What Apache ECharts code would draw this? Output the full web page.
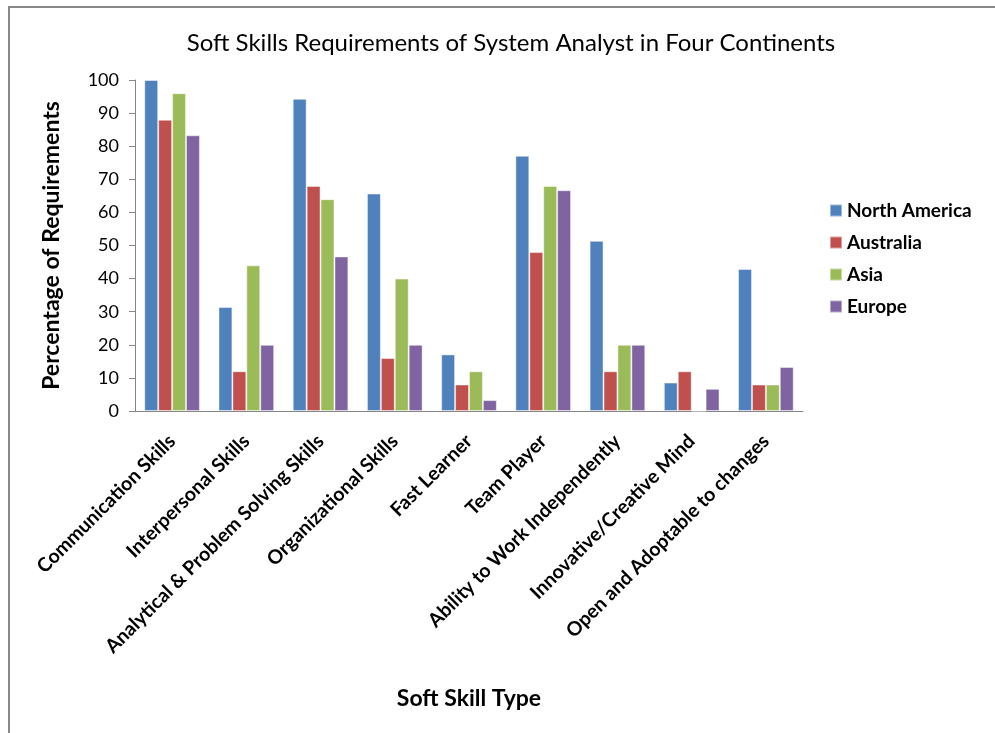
<!DOCTYPE html>
<html>
<head>
<meta charset="utf-8">
<script src="https://cdn.jsdelivr.net/npm/echarts@6/dist/echarts.min.js"></script>
<style>
  html, body { margin: 0; padding: 0; background: #fff; }
  #chart { width: 995px; height: 733px; }
</style>
</head>
<body>
<div id="chart"></div>
<script>
var categories = [
  'Communication Skills',
  'Interpersonal Skills',
  'Analytical & Problem Solving Skills',
  'Organizational Skills',
  'Fast Learner',
  'Team Player',
  'Ability to Work Independently',
  'Innovative/Creative Mind',
  'Open and Adoptable to changes'
];
var northAmerica = [100, 31.4, 94.3, 65.7, 17.1, 77.1, 51.4, 8.6, 42.9];
var australia = [88, 12, 68, 16, 8, 48, 12, 12, 8];
var asia = [96, 44, 64, 40, 12, 68, 20, 0, 8];
var europe = [83.3, 20, 46.7, 20, 3.3, 66.7, 20, 6.7, 13.3];

var FONT = 'Lato';
var chart = echarts.init(document.getElementById('chart'));

function barSeries(name, data, color) {
  return {
    name: name,
    type: 'bar',
    data: data,
    barGap: '0%',
    barCategoryGap: '25%',
    itemStyle: { color: color, borderColor: 'rgba(255,255,255,0.45)', borderWidth: 1 }
  };
}

var option = {
  backgroundColor: '#fff',
  animation: false,
  textStyle: { fontFamily: FONT },
  title: {
    text: 'Soft Skills Requirements of System Analyst in Four Continents',
    left: 506,
    top: 26,
    textAlign: 'center',
    textStyle: { fontFamily: FONT, fontSize: 24, fontWeight: 'normal', color: '#000' }
  },
  legend: {
    orient: 'vertical',
    left: 824,
    top: 196,
    itemWidth: 12,
    itemHeight: 12,
    itemGap: 13,
    icon: 'rect',
    textStyle: { fontFamily: FONT, fontSize: 19, fontWeight: 'bold', color: '#000' },
    data: ['North America', 'Australia', 'Asia', 'Europe']
  },
  grid: { left: 135, right: 192, top: 80, bottom: 322, containLabel: false },
  xAxis: {
    type: 'category',
    data: categories,
    name: 'Soft Skill Type',
    nameLocation: 'middle',
    nameGap: 276,
    nameTextStyle: { fontFamily: FONT, fontSize: 23, fontWeight: 'bold', color: '#000' },
    axisLine: { lineStyle: { color: '#868686' } },
    axisTick: { show: false },
    axisLabel: {
      interval: 0,
      rotate: 45,
      margin: 27,
      fontFamily: FONT,
      fontSize: 19.5,
      fontWeight: 'bold',
      color: '#000'
    }
  },
  yAxis: {
    type: 'value',
    min: 0,
    max: 100,
    interval: 10,
    name: 'Percentage of Requirements',
    nameLocation: 'middle',
    nameGap: 72,
    nameTextStyle: { fontFamily: FONT, fontSize: 23, fontWeight: 'bold', color: '#000' },
    axisLine: { show: true, lineStyle: { color: '#868686' } },
    axisTick: { show: true, length: 6, lineStyle: { color: '#868686' } },
    splitLine: { show: false },
    axisLabel: { fontFamily: FONT, fontSize: 18, color: '#000', margin: 16 }
  },
  graphic: [
    {
      type: 'polyline',
      shape: { points: [[9, 740], [9, 7], [1000, 7]] },
      style: { stroke: '#888', lineWidth: 2, fill: null },
      silent: true
    }
  ],
  series: [
    barSeries('North America', northAmerica, '#4F81BD'),
    barSeries('Australia', australia, '#C0504D'),
    barSeries('Asia', asia, '#9BBB59'),
    barSeries('Europe', europe, '#8064A2')
  ]
};

chart.setOption(option);
</script>
</body>
</html>
